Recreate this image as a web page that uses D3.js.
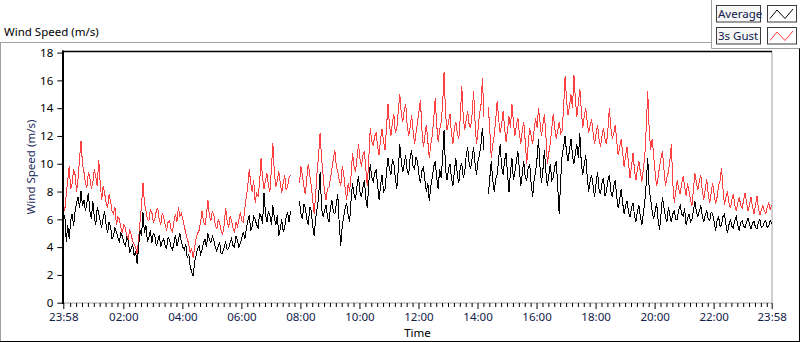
<!DOCTYPE html>
<html><head><meta charset="utf-8">
<script src="https://cdn.jsdelivr.net/npm/d3@7"></script>
<style>
html,body{margin:0;padding:0;background:#fff;}
svg{display:block;}
text{font-family:"Segoe UI","Noto Sans","Open Sans",sans-serif;}
</style></head><body>
<svg id="c" width="800" height="342"></svg>
<script>
// ---------------- data ----------------
const chartTitle = "Wind Speed (m/s)";
const yTitle = "Wind Speed (m/s)";
const xTitle = "Time";
const seriesNames = ["Average", "3s Gust"];
const startTime = "23:58";      // first sample (day 1)
const stepMinutes = 3;          // sampling step of the series below

const average = [
5.8,6.3,4.4,5.6,4.6,5.9,6.4,5.5,6.6,7.2,7.6,6.8,8.0,7.0,7.4,6.6,7.2,7.9,6.6,6.0,
7.3,6.2,5.6,6.9,6.4,5.9,5.4,6.1,6.6,5.6,5.0,5.8,5.5,4.6,4.8,5.4,5.1,4.7,4.4,5.0,
4.8,4.3,4.1,4.7,4.5,3.6,3.9,4.2,3.4,3.7,2.8,4.0,5.2,4.8,6.5,5.0,5.6,4.4,4.7,5.2,
4.3,5.0,4.8,4.1,4.4,4.9,4.0,4.4,4.6,4.1,3.9,4.7,4.5,4.0,3.8,4.3,4.9,4.1,4.5,5.0,
4.4,4.0,3.8,4.2,3.2,3.5,2.6,2.2,1.9,3.0,3.4,3.9,4.1,3.5,3.8,4.3,4.6,4.0,5.0,4.5,
4.3,4.8,4.5,4.0,3.7,4.1,4.3,3.5,3.6,4.0,4.4,3.8,3.9,4.3,4.6,4.1,4.0,4.8,4.5,4.0,
4.3,4.7,5.1,4.6,5.3,5.9,6.3,5.2,5.5,6.2,6.0,5.6,5.4,6.4,6.2,5.7,7.9,6.4,5.8,6.6,
6.3,5.6,7.0,6.1,5.6,6.3,4.8,5.3,6.0,5.1,5.4,6.2,6.5,5.8,6.6,null,null,null,null,null,
7.3,6.4,6.0,7.1,6.8,6.0,5.6,6.9,6.6,5.5,4.8,6.1,6.8,7.6,9.4,6.8,6.2,6.6,7.0,6.2,
5.8,6.8,7.4,6.5,6.4,7.1,7.8,5.6,4.1,5.5,6.2,6.8,7.2,6.3,5.8,7.4,8.6,7.8,7.4,8.4,
9.1,8.0,7.6,8.3,8.8,7.5,6.8,8.6,10.0,9.0,8.7,9.3,9.6,8.4,7.4,8.5,9.2,8.0,8.2,9.4,
10.4,9.6,9.2,10.3,10.0,8.9,8.2,9.6,11.4,10.2,9.4,10.0,10.6,9.5,9.2,10.4,11.0,9.8,9.6,10.5,
10.2,9.2,8.6,9.5,9.8,8.8,8.0,8.6,7.3,8.4,9.0,9.8,10.2,9.0,8.2,9.6,9.0,10.4,12.4,9.6,
8.8,9.6,10.0,9.0,8.4,9.5,10.4,9.2,8.6,9.8,10.0,9.0,9.4,10.6,11.2,10.0,9.6,10.4,11.2,10.0,
9.2,10.2,10.6,11.4,12.6,11.0,null,null,7.8,9.0,10.2,8.8,8.0,8.9,9.2,10.4,11.4,9.8,9.2,10.2,
10.8,9.2,8.0,9.4,10.4,8.8,9.4,10.2,10.9,9.6,8.4,9.3,10.2,9.0,8.8,9.7,10.0,8.6,7.6,8.8,
9.4,10.4,11.8,9.8,8.6,9.6,11.0,9.4,8.4,9.2,10.0,8.8,9.0,9.8,10.2,8.4,6.4,8.8,10.6,11.2,
12.0,10.8,10.2,11.0,11.8,10.6,10.0,10.8,11.4,10.4,12.2,10.0,9.2,10.0,10.6,9.0,8.0,8.8,9.2,8.4,
7.6,8.6,9.4,8.2,7.8,8.6,9.0,7.7,8.0,8.8,9.2,8.0,7.6,8.4,8.8,7.6,6.8,7.4,8.2,7.2,
6.4,7.0,7.3,6.5,6.2,6.8,7.2,6.3,5.8,6.6,7.0,6.2,5.6,6.4,7.2,8.6,10.4,8.2,7.4,6.6,
6.0,6.6,7.2,6.0,5.2,6.4,7.6,6.8,6.2,5.8,6.9,6.3,5.8,6.4,6.6,6.0,6.0,6.7,7.0,6.4,
6.2,6.8,5.6,6.1,6.4,5.8,6.0,6.7,7.3,6.5,6.2,6.6,7.0,6.2,5.8,6.3,6.6,6.0,5.9,6.5,
6.4,5.8,5.2,5.9,6.2,5.5,5.6,6.2,6.4,5.6,5.0,5.6,6.0,5.5,5.4,5.9,6.2,5.6,5.2,5.8,
5.9,5.5,5.4,5.8,6.1,5.6,5.3,5.7,5.9,5.4,5.3,5.8,6.0,5.4,5.5,5.8,5.9,5.4,5.5,5.9,
5.7
];

const gust = [
7.2,6.6,7.8,8.8,9.8,8.2,8.6,9.6,9.2,8.0,8.9,10.4,11.6,10.0,9.4,8.6,8.3,9.4,9.0,8.2,
8.6,9.6,9.1,8.4,10.3,8.6,7.4,8.4,7.9,7.2,6.8,7.8,7.3,6.6,6.4,6.9,5.6,6.2,6.0,5.4,
5.0,5.6,5.4,4.8,4.6,5.2,4.9,4.4,4.2,4.0,3.5,4.6,5.8,7.0,8.6,7.2,6.6,6.0,5.9,6.7,
6.5,5.8,6.0,6.6,6.8,6.0,5.6,6.4,6.2,5.6,5.2,5.8,5.9,5.3,5.1,5.9,6.4,5.8,6.9,6.2,
6.4,6.0,5.5,5.0,4.6,4.2,3.6,3.9,3.2,4.0,4.6,5.0,5.2,5.8,6.6,5.8,5.6,6.3,7.4,6.2,
5.9,6.6,6.3,5.6,5.3,6.0,5.7,5.2,4.9,5.6,6.8,5.9,5.4,6.2,5.9,5.4,5.0,5.8,5.5,6.0,
6.5,5.9,5.8,6.8,7.6,8.4,9.6,8.6,8.0,8.8,7.2,7.9,7.7,8.6,10.4,9.0,8.2,8.8,9.3,8.4,
8.0,9.6,11.5,9.4,8.3,8.8,9.5,8.6,7.9,8.6,9.2,8.1,8.4,9.0,9.2,null,null,null,null,null,
8.6,9.8,9.2,8.4,7.8,9.0,10.0,9.2,8.4,7.4,6.4,7.8,9.5,10.6,12.2,10.4,9.2,8.0,7.4,8.2,
8.3,8.9,9.6,10.4,11.0,9.8,9.4,8.8,8.4,9.8,9.3,8.2,7.4,8.6,8.0,9.2,10.8,9.8,9.4,10.4,
11.4,10.4,9.8,10.6,10.9,9.6,8.4,10.4,12.6,11.6,11.3,12.0,12.2,11.2,10.6,11.8,12.5,11.6,11.0,12.6,
14.3,12.8,12.0,13.0,13.6,12.2,12.6,13.8,15.0,13.6,13.0,13.8,14.3,12.8,12.0,12.6,13.5,12.4,11.4,12.2,
13.0,13.8,14.6,12.4,11.2,12.0,12.8,11.6,10.4,11.4,12.0,13.2,14.7,12.8,11.6,12.4,13.0,14.2,16.6,13.6,
12.4,13.0,13.6,12.2,11.4,12.6,13.0,12.2,11.8,13.4,15.6,13.4,12.4,13.2,13.8,12.8,12.6,13.6,15.2,13.0,
11.4,12.4,13.6,14.2,16.2,13.4,null,null,14.1,12.4,10.4,11.4,12.0,13.2,14.5,13.2,12.2,12.8,13.8,12.6,
11.6,12.4,13.4,12.6,14.3,13.0,12.0,12.8,13.3,12.2,11.4,12.4,13.0,11.6,10.0,11.4,12.6,12.0,11.4,12.4,
13.3,12.6,14.0,13.0,12.0,12.8,13.6,12.0,10.0,10.8,11.5,12.6,13.6,12.6,11.8,12.4,13.0,12.2,12.4,14.0,
16.3,14.6,13.5,14.2,15.0,14.0,16.4,14.6,13.4,14.4,15.4,13.8,12.6,13.4,14.0,13.0,12.2,12.8,13.2,12.2,
11.4,12.2,12.8,11.8,11.2,12.0,12.6,11.8,11.4,12.4,14.0,12.6,11.8,12.2,12.8,11.6,10.6,11.2,11.8,10.8,
9.8,10.6,11.2,10.0,9.0,9.8,10.8,9.6,8.8,9.6,10.2,9.4,8.7,9.6,10.5,12.6,15.2,12.4,11.0,11.8,
10.6,9.4,8.4,9.0,9.8,10.4,10.9,9.6,8.4,9.0,9.4,10.2,11.4,8.6,7.2,8.0,8.8,8.2,7.8,8.6,
9.1,8.4,7.7,8.6,8.0,7.4,7.0,8.2,9.3,8.6,8.1,8.8,9.2,8.0,7.4,8.2,8.9,7.8,7.2,7.9,
8.6,7.8,7.1,7.6,8.4,8.8,9.7,8.2,7.0,7.6,8.0,7.2,6.8,7.4,7.8,7.0,6.6,7.2,7.6,7.0,
6.8,7.4,7.9,7.2,6.6,7.1,7.6,6.9,6.4,7.0,7.7,6.8,6.3,6.7,7.0,6.6,6.4,6.9,7.2,6.7,
7.0
];

const yTickValues = [0, 2, 4, 6, 8, 10, 12, 14, 16, 18];
const xTickLabels = ["23:58","02:00","04:00","06:00","08:00","10:00","12:00",
                     "14:00","16:00","18:00","20:00","22:00","23:58"];

// ---------------- layout ----------------
const svg = d3.select("#c");
const plotL = 63.3, plotR = 771.7, plotT = 51.5, plotB = 303;

const [sh, sm] = startTime.split(":").map(Number);
const t0 = new Date(2000, 0, 1, sh, sm);
const t1 = d3.timeHour.offset(t0, 24);
const timeAt = i => d3.timeMinute.offset(t0, i * stepMinutes);

const x = d3.scaleTime().domain([t0, t1]).range([plotL, plotR]);
const y = d3.scaleLinear().domain([0, 18]).range([302.7, 52.6]);

const majorDates = xTickLabels.map((lab, k) => {
  if (k === 0) return t0;
  if (k === xTickLabels.length - 1) return t1;
  const [h, m] = lab.split(":").map(Number);
  return new Date(2000, 0, 2, h, m);
});
const minorDates = d3.timeMinute.every(12).range(new Date(2000,0,2,0,0), t1)
  .filter(d => majorDates.every(m => Math.abs(d - m) > 6 * 60000));

const probe = svg.append("text").attr("font-size", 12).text(chartTitle);
const pw = probe.node().getComputedTextLength();
probe.remove();
const fs = Math.max(10.5, Math.min(13, 12 * 95 / pw));

// ---------------- frame ----------------
const gray = "#a0a0a0";
svg.append("line").attr("x1", 0).attr("x2", 712).attr("y1", 42.5).attr("y2", 42.5).attr("stroke", gray);
svg.append("line").attr("x1", 0.5).attr("x2", 0.5).attr("y1", 42.5).attr("y2", 342).attr("stroke", gray);
svg.append("line").attr("x1", 711.5).attr("x2", 711.5).attr("y1", 0).attr("y2", 48.5).attr("stroke", gray);
svg.append("line").attr("x1", 711.5).attr("x2", 800).attr("y1", 48.5).attr("y2", 48.5).attr("stroke", gray);
svg.append("line").attr("x1", 799.5).attr("x2", 799.5).attr("y1", 48.5).attr("y2", 342).attr("stroke", "#000");
svg.append("line").attr("x1", 0).attr("x2", 800).attr("y1", 341.5).attr("y2", 341.5).attr("stroke", "#000");

svg.append("text").attr("x", 4).attr("y", 35.5).attr("font-size", fs).attr("fill", "#000").text(chartTitle);

svg.append("line").attr("x1", 772).attr("x2", 772).attr("y1", plotT).attr("y2", plotB).attr("stroke", gray);
svg.append("line").attr("x1", plotL).attr("x2", 772).attr("y1", plotB).attr("y2", plotB).attr("stroke", gray);

// ---------------- data lines ----------------
const line = d3.line()
  .defined(d => d != null)
  .x((d, i) => x(timeAt(i)))
  .y(d => y(d));

svg.append("path").datum(gust).attr("d", line)
  .attr("fill", "none").attr("stroke", "#ff4040").attr("stroke-width", 1)
  .attr("shape-rendering", "crispEdges");
svg.append("path").datum(average).attr("d", line)
  .attr("fill", "none").attr("stroke", "#000").attr("stroke-width", 1)
  .attr("shape-rendering", "crispEdges");

svg.append("line").attr("x1", plotL - 0.3).attr("x2", plotL - 0.3).attr("y1", plotT - 1).attr("y2", plotB + 1).attr("stroke", "#000").attr("stroke-width", 2);
svg.append("line").attr("x1", plotL - 1.3).attr("x2", 772).attr("y1", plotT).attr("y2", plotT).attr("stroke", "#000").attr("stroke-width", 1.5);

// ---------------- axes ----------------
const yAxis = d3.axisLeft(y).tickValues(yTickValues).tickSize(5).tickPadding(4).tickFormat(d3.format("d"));
const gy = svg.append("g").attr("transform", `translate(${plotL - 1},0)`).call(yAxis);
gy.select(".domain").remove();
gy.selectAll("text").attr("font-size", fs).attr("fill", "#000").attr("font-family", null);
gy.selectAll("line").attr("stroke", "#000");

const xAxis = d3.axisBottom(x).tickValues(majorDates).tickSize(6).tickPadding(4)
  .tickFormat((d, k) => xTickLabels[k]);
const gx = svg.append("g").attr("transform", `translate(0,${plotB})`).call(xAxis);
gx.select(".domain").remove();
gx.selectAll("text").attr("font-size", fs).attr("fill", "#10204a").attr("font-family", null);
gx.selectAll("line").attr("stroke", "#000");

const xMinor = d3.axisBottom(x).tickValues(minorDates).tickSize(4).tickFormat("");
const gm = svg.append("g").attr("transform", `translate(0,${plotB})`).call(xMinor);
gm.select(".domain").remove();
gm.selectAll("line").attr("stroke", "#000");

svg.append("text").attr("x", (plotL + plotR) / 2).attr("y", 336.5).attr("text-anchor", "middle")
  .attr("font-size", fs).attr("fill", "#000").text(xTitle);
svg.append("text").attr("transform", "translate(34.5,167) rotate(-90)").attr("text-anchor", "middle")
  .attr("font-size", fs).attr("fill", "#1b2a5a").text(yTitle);

// ---------------- legend ----------------
const legendColors = ["#000", "#ff4040"];
seriesNames.forEach((name, k) => {
  const top = 5.5 + k * 22;
  svg.append("rect").attr("x", 716.5).attr("y", top).attr("width", 44).attr("height", 16.5)
    .attr("fill", "#f7f7f7").attr("stroke", "#3c3c3c");
  svg.append("text").attr("x", 718).attr("y", top + 12.5).attr("font-size", fs).attr("fill", "#10204a").text(name);
  svg.append("rect").attr("x", 767.5).attr("y", top).attr("width", 29).attr("height", 16.5)
    .attr("fill", "#fff").attr("stroke", "#3c3c3c");
  svg.append("path").attr("d", `M770,${top + 13} L777,${top + 4.5} L785,${top + 13} L793,${top + 3.5}`)
    .attr("fill", "none").attr("stroke", legendColors[k]).attr("stroke-width", 1);
});
</script>
</body></html>
